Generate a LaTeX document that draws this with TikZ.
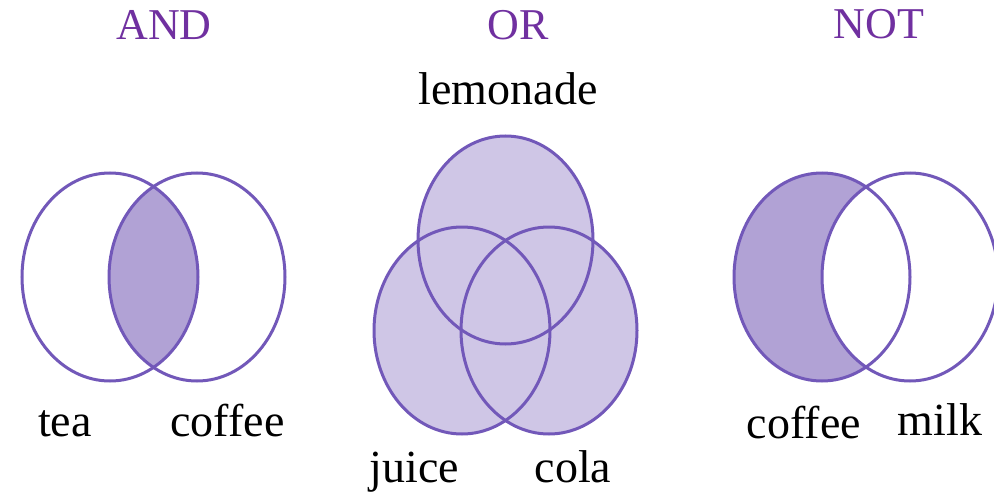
\documentclass[tikz,border=0pt]{standalone}
\usepackage{fontspec}
\setmainfont{Liberation Serif}
\definecolor{vstroke}{RGB}{114,88,185}
\definecolor{andfill}{RGB}{177,162,213}
\definecolor{orfill}{RGB}{207,198,230}
\definecolor{titlecol}{RGB}{112,48,160}
\begin{document}
\begin{tikzpicture}[x=1pt,y=-1pt,
  ring/.style={draw=vstroke,line width=3pt},
  elli/.style={x radius=88pt,y radius=104pt},
  title/.style={anchor=base,inner sep=0pt,text=titlecol,font=\fontsize{44}{48}\selectfont},
  lbl/.style={anchor=base,inner sep=0pt,text=black,font=\fontsize{46}{50}\selectfont}]
\useasboundingbox[fill=white] (0,0) rectangle (994,495);
% titles
\node[title] (tand) at (164,40) {AND};
\node[title] (tor) at (518,40) {OR};
\node[title] (tnot) at (879,39) {NOT};
% AND
\begin{scope}
  \clip (110,277) ellipse [elli];
  \fill[andfill] (197,277) ellipse [elli];
\end{scope}
\draw[ring] (110,277) ellipse [elli];
\draw[ring] (197,277) ellipse [elli];
\node[lbl] (tea) at (65,436) {tea};
\node[lbl] (coffeeA) at (227.5,436) {coffee};
% OR
\fill[orfill] (505.5,240) ellipse [x radius=87.5pt,y radius=104pt];
\fill[orfill] (462,330.5) ellipse [x radius=88pt,y radius=103.5pt];
\fill[orfill] (549,330.5) ellipse [x radius=88pt,y radius=103.5pt];
\draw[ring] (505.5,240) ellipse [x radius=87.5pt,y radius=104pt];
\draw[ring] (462,330.5) ellipse [x radius=88pt,y radius=103.5pt];
\draw[ring] (549,330.5) ellipse [x radius=88pt,y radius=103.5pt];
\node[lbl] (lemonade) at (508,105) {lemonade};
\node[lbl] (juice) at (414.5,482) {juice};
\node[lbl] (cola) at (573,482) {cola};
% NOT
\fill[andfill] (822,277) ellipse [elli];
\fill[white] (910,277) ellipse [elli];
\draw[ring] (822,277) ellipse [elli];
\draw[ring] (910,277) ellipse [elli];
\node[lbl] (coffeeN) at (804,438) {coffee};
\node[lbl] (milk) at (940,435) {milk};
\end{tikzpicture}
\end{document}
